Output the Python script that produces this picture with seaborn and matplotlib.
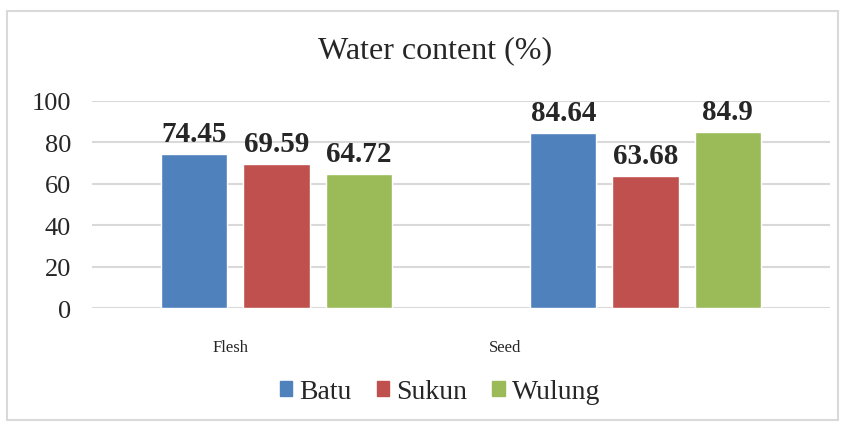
import numpy as np
import pandas as pd
import matplotlib
matplotlib.use('Agg')
import matplotlib.pyplot as plt
from matplotlib.patches import Rectangle
import seaborn as sns

# values
parts = ['Flesh', 'Seed']
varieties = ['Batu', 'Sukun', 'Wulung']
batu = [74.45, 84.64]
sukun = [69.59, 63.68]
wulung = [64.72, 84.9]
colors = ['#4F81BD', '#C0504D', '#9BBB59']

data = pd.DataFrame({
    'part': parts * 3,
    'variety': [v for v in varieties for _ in parts],
    'water': batu + sukun + wulung,
})

sns.set_style('white')
plt.rcParams['font.family'] = ['Liberation Serif', 'DejaVu Serif']

fig = plt.figure(figsize=(8.45, 4.27), dpi=100)
ax = fig.add_axes([92 / 845, 1 - 309 / 427, 738 / 845, 207 / 427])

sns.barplot(data=data, x='part', y='water', hue='variety', palette=colors,
            width=0.667, gap=0.195, ax=ax, legend=True, saturation=1)

ax.set_ylim(0, 100)
ax.set_xlim(-0.5, 1.5)
ax.set_yticks(np.arange(0, 101, 20))
ax.yaxis.grid(True, color='#D9D9D9', linewidth=1.5)
ax.set_axisbelow(True)
ax.tick_params(axis='y', length=0, pad=15, labelsize=19)
ax.tick_params(axis='x', length=0, pad=22, labelsize=12)
# category labels sit left of the group centres in the original
ax.set_xticks([-0.125, 0.62], parts)
ax.set_xlabel('')
ax.set_ylabel('')
for s in ax.spines.values():
    s.set_visible(False)

for cont in ax.containers:
    ax.bar_label(cont, labels=[f'{v:g}' for v in cont.datavalues], padding=5,
                 fontsize=21, fontweight='bold', clip_on=False)

ax.legend_.remove()
handles = [Rectangle((0, 0), 1, 1, color=c) for c in colors]
fig.legend(handles, varieties, loc='center', bbox_to_anchor=(440 / 845, 1 - 393 / 427),
           ncol=3, frameon=False, fontsize=20, handlelength=0.45, handleheight=0.45,
           handletextpad=0.25, columnspacing=0.9)

fig.text(435 / 845, 1 - 51 / 427, 'Water content (%)', ha='center', va='center', fontsize=23)

fig.patches.append(Rectangle((7 / 845, 6 / 427), 831 / 845, 409 / 427, transform=fig.transFigure,
                             fill=False, edgecolor='#D9D9D9', linewidth=1.5))

fig.savefig('out.png', dpi=100)
